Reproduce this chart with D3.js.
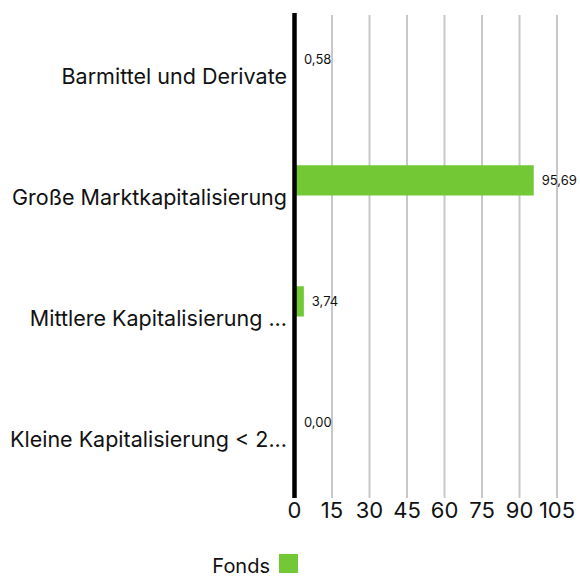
<!DOCTYPE html>
<html>
<head>
<meta charset="utf-8">
<script src="https://cdn.jsdelivr.net/npm/d3@7"></script>
<style>
  body { margin: 0; background: #fff; }
  text { font-family: Inter, "Open Sans", sans-serif; fill: #111; }
</style>
</head>
<body>
<svg id="chart" width="580" height="577"></svg>
<script>
const categories = ['Barmittel und Derivate', 'Große Marktkapitalisierung', 'Mittlere Kapitalisierung ...', 'Kleine Kapitalisierung < 2...']
const fonds = [0.58, 95.69, 3.74, 0.00]
const ticks = [0, 15, 30, 45, 60, 75, 90, 105]
const seriesName = 'Fonds'

const svg = d3.select('#chart')
const plotLeft = 294.5
const plotTop = 14
const plotBottom = 498
const green = '#72c935'

const x = d3.scaleLinear().domain([0, 105]).range([plotLeft, 557])
const y = d3.scaleBand().domain(categories).range([plotTop, plotBottom])
const barH = y.bandwidth() * 0.25

// gridlines
svg.selectAll('.grid')
  .data(ticks.slice(1))
  .enter()
  .append('line')
  .attr('class', 'grid')
  .attr('x1', d => x(d))
  .attr('x2', d => x(d))
  .attr('y1', plotTop + 1)
  .attr('y2', plotBottom)
  .attr('stroke', '#c8c8c8')
  .attr('stroke-width', 2)

// bars
svg.selectAll('.bar')
  .data(fonds)
  .enter()
  .append('rect')
  .attr('class', 'bar')
  .attr('x', x(0))
  .attr('y', (d, i) => y(categories[i]) + y.bandwidth() / 2 - barH)
  .attr('width', d => x(d) - x(0))
  .attr('height', barH)
  .attr('fill', green)

// value labels
svg.selectAll('.val')
  .data(fonds)
  .enter()
  .append('text')
  .attr('class', 'val')
  .attr('x', d => Math.max(x(d), x(0) + 1.5) + 8)
  .attr('y', (d, i) => y(categories[i]) + y.bandwidth() / 2 - barH / 2)
  .attr('dy', '0.35em')
  .style('font-size', '13px')
  .text(d => d.toFixed(2).replace('.', ','))

// y axis line
svg.append('line')
  .attr('x1', plotLeft)
  .attr('x2', plotLeft)
  .attr('y1', plotTop - 1)
  .attr('y2', plotBottom)
  .attr('stroke', '#000')
  .attr('stroke-width', 4.5)

// category labels
svg.selectAll('.cat')
  .data(categories)
  .enter()
  .append('text')
  .attr('class', 'cat')
  .attr('x', 287)
  .attr('y', d => y(d) + y.bandwidth() / 2 + 2)
  .attr('dy', '0.35em')
  .attr('text-anchor', 'end')
  .style('font-size', '21.5px')
  .text(d => d)

// tick labels
svg.selectAll('.tick')
  .data(ticks)
  .enter()
  .append('text')
  .attr('class', 'tick')
  .attr('x', d => x(d))
  .attr('y', 518)
  .attr('text-anchor', 'middle')
  .style('font-size', '22px')
  .text(d => d)

// legend
svg.append('text')
  .attr('x', 270)
  .attr('y', 573)
  .attr('text-anchor', 'end')
  .style('font-size', '20px')
  .text(seriesName)
svg.append('rect')
  .attr('x', 279)
  .attr('y', 554)
  .attr('width', 19)
  .attr('height', 19)
  .attr('fill', green)
</script>
</body>
</html>
